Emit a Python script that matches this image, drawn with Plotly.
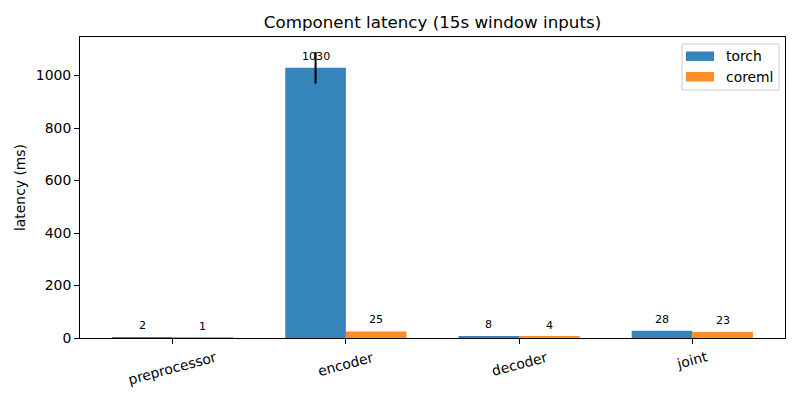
import plotly.graph_objects as go

categories = ["preprocessor", "encoder", "decoder", "joint"]
torch_ms = [2, 1030, 8, 28]
coreml_ms = [1, 25, 4, 23]
torch_err = [0, 60, 0, 0]
torch_labels = ["2", "1030", "8", "28"]
coreml_labels = ["1", "25", "4", "23"]
series_names = ["torch", "coreml"]
series_colors = ["#1f77b4", "#ff7f0e"]
y_ticks = [0, 200, 400, 600, 800, 1000]

width = 0.35
idx = list(range(len(categories)))
x_torch = [i - width / 2 for i in idx]
x_coreml = [i + width / 2 for i in idx]

font = "DejaVu Sans"
W, H = 800, 400
L, R, T, B = 80, 15, 37, 62

fig = go.Figure()
fig.add_trace(go.Bar(
    x=x_torch, y=torch_ms, width=width, name=series_names[0],
    marker=dict(color=series_colors[0], opacity=0.9, line=dict(width=0)),
    error_y=dict(type="data", array=torch_err, color="black", thickness=2, width=0),
))
fig.add_trace(go.Bar(
    x=x_coreml, y=coreml_ms, width=width, name=series_names[1],
    marker=dict(color=series_colors[1], opacity=0.9, line=dict(width=0)),
))

for xs, ys, labs in [(x_torch, torch_ms, torch_labels), (x_coreml, coreml_ms, coreml_labels)]:
    for x, y, t in zip(xs, ys, labs):
        fig.add_annotation(x=x, y=y, text=t, showarrow=False, yanchor="bottom",
                           yshift=3, font=dict(family=font, size=11.1, color="black"))

# rotated category labels centred on their ticks (matplotlib style)
for i, c in zip(idx, categories):
    fig.add_annotation(x=i, y=0, xref="x", yref="y", text=c, showarrow=False,
                       textangle=-15, xanchor="center", yanchor="top", yshift=-8,
                       font=dict(family=font, size=13.9, color="black"))

# legend drawn manually in matplotlib style
pw, ph = W - L - R, H - T - B
def px(x):
    return (x - L) / pw
def py(y):
    return (H - B - y) / ph

fig.add_shape(type="rect", xref="paper", yref="paper",
              x0=px(682), x1=px(779), y0=py(44), y1=py(90),
              line=dict(color="#cccccc", width=1), fillcolor="rgba(255,255,255,0.8)", layer="above")
for k, (nm, col) in enumerate(zip(series_names, series_colors)):
    yc = 56 + 20.5 * k
    fig.add_shape(type="rect", xref="paper", yref="paper",
                  x0=px(686), x1=px(714), y0=py(yc + 5), y1=py(yc - 4.5),
                  line=dict(width=0), fillcolor=col, opacity=0.9, layer="above")
    fig.add_annotation(xref="paper", yref="paper", x=px(724), y=py(yc), text=nm,
                       showarrow=False, xanchor="left", yanchor="middle",
                       font=dict(family=font, size=13.9, color="black"))

fig.update_layout(
    width=W, height=H,
    margin=dict(l=L, r=R, t=T, b=B, autoexpand=False),
    paper_bgcolor="white", plot_bgcolor="white",
    font=dict(family=font, size=13.9, color="black"),
    title=dict(text="Component latency (15s window inputs)", x=0.5, xref="paper",
               xanchor="center", y=1 - 22 / H, yanchor="middle",
               font=dict(size=16.7, family=font)),
    barmode="overlay",
    showlegend=False,
)
fig.update_xaxes(
    range=[-0.535, 3.535], tickvals=idx, showticklabels=False,
    showline=True, linecolor="black", linewidth=1, mirror=True, automargin=False,
    ticks="outside", ticklen=5, tickcolor="black", showgrid=False, zeroline=False,
)
fig.update_yaxes(
    range=[0, 1147], tickvals=y_ticks,
    title=dict(text="latency (ms)", font=dict(size=13.9, family=font), standoff=6),
    showline=True, linecolor="black", linewidth=1, mirror=True, automargin=False,
    ticks="outside", ticklen=5, tickcolor="black", showgrid=False, zeroline=False,
)

fig.write_html("out.html", config={"displayModeBar": False},
               post_script="document.body.style.margin='0';")
